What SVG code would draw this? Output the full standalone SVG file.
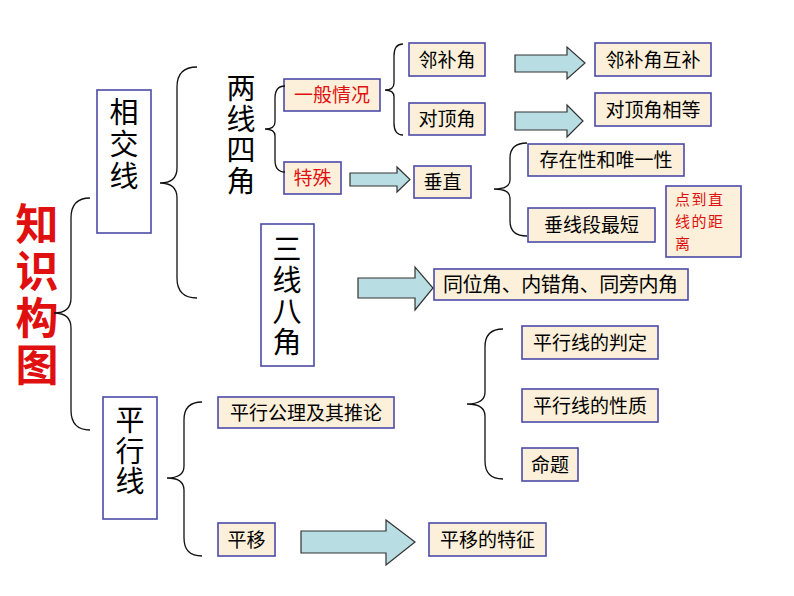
<svg xmlns="http://www.w3.org/2000/svg" width="794" height="596" viewBox="0 0 794 596">
<style>
text{font-family:"Noto Sans CJK SC","Noto Sans",sans-serif;fill:#000}
.b{fill:#FCF0DA;stroke:#4A4AA8;stroke-width:1.6}
.w{fill:#fff;stroke:#4A4AA8;stroke-width:1.6}
.t{font-size:19px;text-anchor:middle}
.r{fill:#E01010}
.v{font-size:29px;writing-mode:vertical-rl}
.brace{fill:none;stroke:#111;stroke-width:1.3}
.arr{fill:#B8DDE2;stroke:#333;stroke-width:1.2}
</style>
<rect width="794" height="596" fill="#fff"/>
<g id="title">
<text class="r" x="37" y="202.5" font-size="43" font-weight="bold" letter-spacing="4" style="writing-mode:vertical-rl">知识构图</text>
</g>
<g id="xiangjiaoxian"><rect class="w" x="97" y="90" width="54" height="143"/>
<text class="v" x="124" y="97.5" letter-spacing="3">相交线</text></g>
<g id="pingxingxian"><rect class="w" x="103" y="397" width="54" height="122"/>
<text class="v" x="130" y="405.5" letter-spacing="1.5">平行线</text></g>
<g id="liangxiansijiao">
<text class="v" x="241" y="73.5" letter-spacing="2">两线四角</text></g>
<g id="sanxianbajiao"><rect class="w" x="261" y="224" width="53" height="142"/>
<text class="v" x="287" y="234.5" letter-spacing="2">三线八角</text></g>
<g id="yiban"><rect class="b" x="284" y="79" width="96" height="32"/><text class="t r" x="332" y="102">一般情况</text></g>
<g id="teshu"><rect class="b" x="284" y="162" width="57" height="32"/><text class="t r" x="312.5" y="185">特殊</text></g>
<g id="linbujiao"><rect class="b" x="409" y="43" width="76" height="33"/><text class="t" x="447" y="66.5">邻补角</text></g>
<g id="duidingjiao"><rect class="b" x="409" y="103" width="76" height="32"/><text class="t" x="447" y="126">对顶角</text></g>
<g id="linbujiaohubu"><rect class="b" x="595" y="43" width="116" height="33"/><text class="t" x="653" y="66.5">邻补角互补</text></g>
<g id="duidingjiaoxiangdeng"><rect class="b" x="595" y="93" width="116" height="33"/><text class="t" x="653" y="116.5">对顶角相等</text></g>
<g id="chuizhi"><rect class="b" x="414" y="166" width="57" height="32"/><text class="t" x="442.5" y="189">垂直</text></g>
<g id="cunzai"><rect class="b" x="528" y="144" width="156" height="32"/><text class="t" x="606" y="167">存在性和唯一性</text></g>
<g id="chuixianduan"><rect class="b" x="528" y="208" width="127" height="34"/><text class="t" x="591.5" y="232">垂线段最短</text></g>
<g id="juli"><rect class="b" x="666" y="186" width="75" height="71"/>
<text class="r" font-size="15" letter-spacing="1.5"><tspan x="675" y="205">点到直</tspan><tspan x="675" y="227">线的距</tspan><tspan x="675" y="249">离</tspan></text></g>
<g id="tongweijiao"><rect class="b" x="434" y="269" width="254" height="31"/><text x="443" y="292" font-size="20" textLength="235" lengthAdjust="spacing">同位角、内错角、同旁内角</text></g>
<g id="gongli"><rect class="b" x="218" y="397" width="176" height="31"/><text class="t" x="306" y="419.5">平行公理及其推论</text></g>
<g id="pingyi"><rect class="b" x="218" y="523" width="57" height="33"/><text class="t" x="246.5" y="546.5">平移</text></g>
<g id="panding"><rect class="b" x="522" y="326" width="136" height="33"/><text class="t" x="590" y="349.5">平行线的判定</text></g>
<g id="xingzhi"><rect class="b" x="522" y="389" width="136" height="33"/><text class="t" x="590" y="412.5">平行线的性质</text></g>
<g id="mingti"><rect class="b" x="522" y="448" width="56" height="33"/><text class="t" x="550" y="471.5">命题</text></g>
<g id="pingyitezheng"><rect class="b" x="429" y="523" width="117" height="33"/><text class="t" x="487.5" y="546.5">平移的特征</text></g>
<g id="connectors">
<path class="brace" d="M90,198 Q71,198 71,218 L71,298 Q71,313 54,313 Q71,313 71,328 L71,410 Q71,430 90,430"/>
<path class="brace" d="M197,67 Q177,67 177,87 L177,168 Q177,183 160,183 Q177,183 177,198 L177,278 Q177,298 197,298"/>
<path class="brace" d="M285,86 Q275,86 275,98 L275,122 Q275,129 265,129 Q275,129 275,136 L275,160 Q275,172 285,172"/>
<path class="brace" d="M403,44 Q394,44 394,56 L394,83 Q394,90 385,90 Q394,90 394,97 L394,123 Q394,135 403,135"/>
<path class="brace" d="M527,143 Q510,143 510,158 L510,180 Q510,189 494,189 Q510,189 510,198 L510,221 Q510,236 527,236"/>
<path class="brace" d="M202,402 Q184,402 184,420 L184,466 Q184,478 167,478 Q184,478 184,490 L184,538 Q184,556 202,556"/>
<path class="brace" d="M503,329 Q485,329 485,347 L485,392 Q485,404 467,404 Q485,404 485,416 L485,461 Q485,479 503,479"/>
<path class="arr" d="M515,55 L567,55 L567,47 L585,63 L567,79 L567,72 L515,72 Z"/>
<path class="arr" d="M515,112 L567,112 L567,105 L583,121 L567,137 L567,130 L515,130 Z"/>
<path class="arr" d="M350,173 L397,173 L397,167 L410,179.5 L397,192 L397,186 L350,186 Z"/>
<path class="arr" d="M358,278 L415,278 L415,267 L433,288 L415,310 L415,298 L358,298 Z"/>
<path class="arr" d="M301,531 L386,531 L386,520 L415,542 L386,565 L386,553 L301,553 Z"/>
</g>
</svg>
